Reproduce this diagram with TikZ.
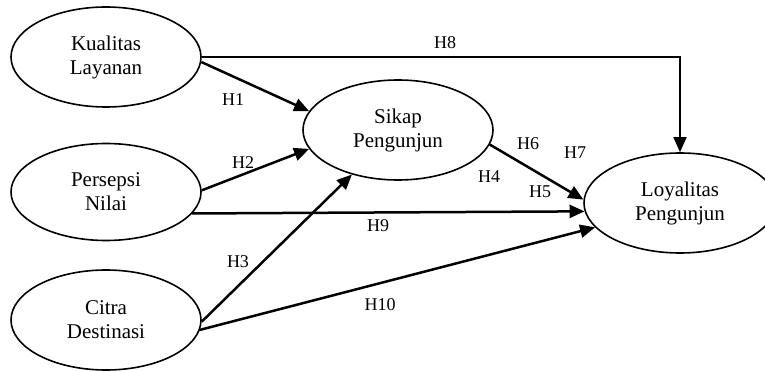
\documentclass[tikz,border=0pt]{standalone}
\usepackage{fontspec}
\setmainfont{Liberation Serif}
\usetikzlibrary{shapes.geometric,arrows.meta}
\begin{document}
\begin{tikzpicture}[x=1pt,y=-1pt,
  var/.style={ellipse, draw, line width=1.6pt, minimum width=190pt, minimum height=100pt,
    inner sep=0pt, align=center, font=\fontsize{21}{24}\selectfont,
    execute at begin node=\rule{0pt}{22pt}},
  hyp/.style={line width=2.5pt, -{Triangle[length=15pt,width=13pt]}},
  lbl/.style={font=\fontsize{18}{20}\selectfont, inner sep=0pt}]
\useasboundingbox (0,0) rectangle (765,371);

\node[var] (kl) at (106,57) {Kualitas\\Layanan};
\node[var, minimum height=97pt] (pn) at (106,192) {Persepsi\\Nilai};
\node[var] (cd) at (106,320) {Citra\\Destinasi};
\node[var] (sp) at (398,130) {Sikap\\Pengunjun};
\node[var, minimum width=192pt] (lp) at (680,203) {Loyalitas\\Pengunjun};

\draw[hyp, line width=1.6pt] (kl.east) -| (lp.north);
\draw[hyp] (kl.-3) -- (sp.168);
\draw[hyp] (pn.1) -- (sp.192);
\draw[hyp] (cd.-1) -- (sp.224);
\draw[hyp] (sp.-9) -- (lp.178);
\draw[hyp] (pn.-14) -- (lp.185);
\draw[hyp] (cd.-6) -- (lp.196);

\node[lbl] (h8) at (445,43) {H8};
\node[lbl] (h1) at (233,100) {H1};
\node[lbl] (h2) at (243,163) {H2};
\node[lbl] (h3) at (238,262) {H3};
\node[lbl] (h9) at (378,226) {H9};
\node[lbl] (h10) at (380,305) {H10};
\node[lbl] (h4) at (489,177) {H4};
\node[lbl] (h5) at (540,192) {H5};
\node[lbl] (h6) at (528,144) {H6};
\node[lbl] (h7) at (575,153) {H7};
\end{tikzpicture}
\end{document}
